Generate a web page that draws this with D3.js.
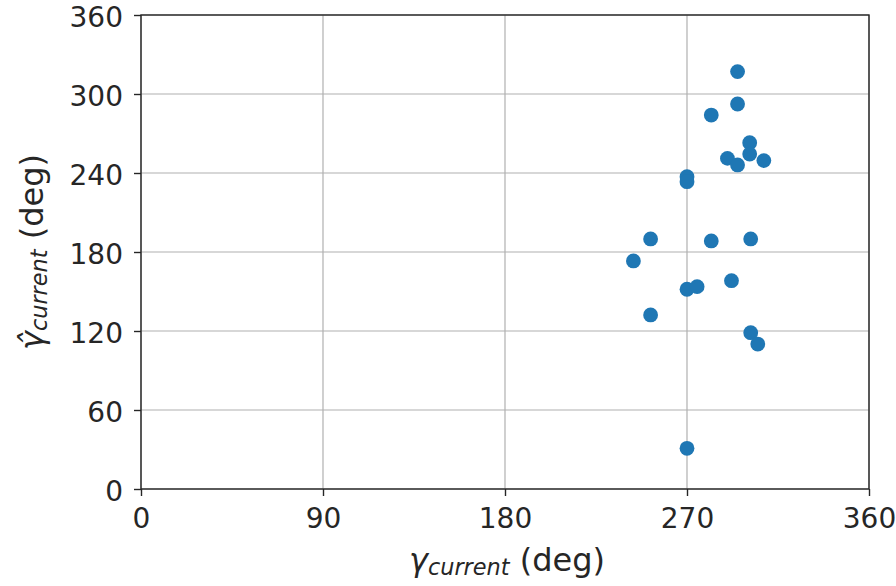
<!DOCTYPE html>
<html><head><meta charset="utf-8">
<script src="https://cdn.jsdelivr.net/npm/d3@7"></script>
<style>body{margin:0;background:#fff}svg{display:block}text{font-family:"DejaVu Sans",sans-serif;fill:#262626}</style>
</head><body>
<script>
const xTicks = [0, 90, 180, 270, 360];
const yTicks = [0, 60, 120, 180, 240, 300, 360];
const gammaTrue = [295, 295, 282, 270, 270, 301, 301, 290, 295, 308, 252, 282, 301.5, 243.5, 270, 275, 292, 252, 301.5, 305, 270];
const gammaEst  = [317, 292.4, 284, 237.2, 233.4, 263, 254.4, 251.1, 246.1, 249.4, 189.9, 188.4, 189.9, 173.2, 151.7, 153.7, 158.2, 132.2, 118.7, 110.1, 30.9];

const W = 896, H = 586;
const m = {left: 141, right: 896-869, top: 15, bottom: 586-489};
const svg = d3.select("body").append("svg").attr("width", W).attr("height", H);
const x = d3.scaleLinear().domain([0, 360]).range([m.left, W - m.right]);
const y = d3.scaleLinear().domain([0, 360]).range([H - m.bottom, m.top]);

// grid
svg.append("g").selectAll("line").data(xTicks).join("line")
  .attr("x1", d => x(d)).attr("x2", d => x(d)).attr("y1", y(0)).attr("y2", y(360))
  .attr("stroke", "#b0b0b0").attr("stroke-width", 1.2);
svg.append("g").selectAll("line").data(yTicks).join("line")
  .attr("y1", d => y(d)).attr("y2", d => y(d)).attr("x1", x(0)).attr("x2", x(360))
  .attr("stroke", "#b0b0b0").attr("stroke-width", 1.2);

// points
svg.append("g").selectAll("circle").data(gammaTrue).join("circle")
  .attr("cx", d => x(d)).attr("cy", (d, i) => y(gammaEst[i])).attr("r", 7.4)
  .attr("fill", "#1f77b4");

// axes
const fs = 28;
const xAxis = d3.axisBottom(x).tickValues(xTicks).tickSize(7).tickPadding(11).tickFormat(d3.format("d"));
const yAxis = d3.axisLeft(y).tickValues(yTicks).tickSize(7).tickPadding(11).tickFormat(d3.format("d"));
const gx = svg.append("g").attr("transform", `translate(0,${y(0)})`).call(xAxis);
const gy = svg.append("g").attr("transform", `translate(${x(0)},0)`).call(yAxis);
[gx, gy].forEach(g => {
  g.select(".domain").remove();
  g.selectAll(".tick line").attr("stroke", "#262626").attr("stroke-width", 1.4);
  g.selectAll(".tick text").attr("font-size", fs).attr("fill", "#262626").attr("font-family", "DejaVu Sans");
});
gy.selectAll(".tick text").attr("dy", "0.4em");
gx.selectAll(".tick text").attr("dy", "0.76em");
// frame
svg.append("rect").attr("x", x(0)).attr("y", y(360)).attr("width", x(360) - x(0)).attr("height", y(0) - y(360))
  .attr("fill", "none").attr("stroke", "#262626").attr("stroke-width", 1.4);

// x label
const lfs = 32;
const xl = svg.append("text").attr("x", (x(0) + x(360)) / 2 + 2).attr("y", 571).attr("text-anchor", "middle").attr("font-size", lfs);
xl.append("tspan").attr("font-style", "italic").text("γ");
xl.append("tspan").attr("font-style", "italic").attr("font-size", lfs * 0.7).attr("dy", 4).text("current");
xl.append("tspan").attr("dy", -4).text(" (deg)");

// y label
const yl = svg.append("text").attr("transform", `translate(43,${(y(0) + y(360)) / 2}) rotate(-90)`).attr("text-anchor", "middle").attr("font-size", lfs);
yl.append("tspan").attr("font-style", "italic").text("γ\u0302");
yl.append("tspan").attr("font-style", "italic").attr("font-size", lfs * 0.7).attr("dy", 4).text("current");
yl.append("tspan").attr("dy", -4).text(" (deg)");
</script>
</body></html>
